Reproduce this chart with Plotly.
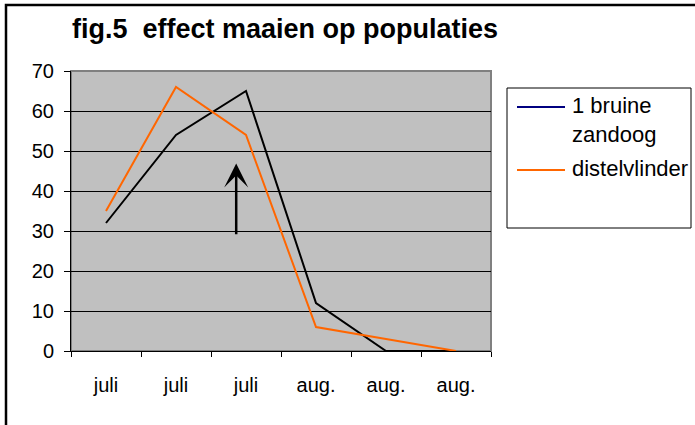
import plotly.graph_objects as go

categories = ["juli", "juli", "juli", "aug.", "aug.", "aug."]
bruine_zandoog = [32, 54, 65, 12, 0, 0]
distelvlinder = [35, 66, 54, 6, 3, 0]
y_ticks = [0, 10, 20, 30, 40, 50, 60, 70]
arrow_x = 1.86
arrow_from = 28.8
arrow_to = 46.9

x_pos = list(range(len(categories)))
FONT = "Liberation Sans, Arial, sans-serif"

# pixel -> paper helpers (plot area: x 71..491, y 71..351)
def px(x):
    return (x - 71) / 420


def py(y):
    return (351 - y) / 280


fig = go.Figure()
fig.add_trace(go.Scatter(x=x_pos, y=bruine_zandoog, mode="lines",
                         line=dict(color="#000000", width=2), showlegend=False,
                         name="1 bruine zandoog"))
fig.add_trace(go.Scatter(x=x_pos, y=distelvlinder, mode="lines",
                         line=dict(color="#FF6600", width=2), showlegend=False,
                         name="distelvlinder"))

fig.add_annotation(x=arrow_x, y=arrow_to, ax=arrow_x, ay=arrow_from,
                   xref="x", yref="y", axref="x", ayref="y", text="",
                   showarrow=True, arrowhead=3, arrowwidth=2.5, arrowsize=1.6,
                   arrowcolor="#000000")

# plot-area border
fig.add_shape(type="rect", xref="paper", yref="paper", x0=0, x1=1, y0=0, y1=1,
              line=dict(color="#808080", width=2), layer="below")
# legend box
fig.add_shape(type="rect", xref="paper", yref="paper",
              x0=px(507), x1=px(691), y0=py(228), y1=py(88),
              line=dict(color="#000000", width=1))
# legend entries: (colour, text lines, symbol y, first text centre y)
legend_entries = [("#000080", ["1 bruine", "zandoog"], 107, 105),
                  ("#FF6600", ["distelvlinder"], 170, 168)]
for color, lines, ysym, ytxt in legend_entries:
    fig.add_shape(type="line", xref="paper", yref="paper",
                  x0=px(517), x1=px(565), y0=py(ysym), y1=py(ysym),
                  line=dict(color=color, width=2))
    for i, t in enumerate(lines):
        fig.add_annotation(x=px(570), y=py(ytxt + 29 * i), xref="paper", yref="paper",
                           text=t, showarrow=False, xanchor="left", yanchor="middle",
                           font=dict(family=FONT, size=22, color="#000000"))
# outer chart border
fig.add_shape(type="rect", xref="paper", yref="paper",
              x0=px(6), x1=px(705), y0=py(440), y1=py(5),
              line=dict(color="#000000", width=2.5))

fig.update_layout(
    width=695, height=425,
    margin=dict(l=71, r=204, t=71, b=74),
    paper_bgcolor="#FFFFFF", plot_bgcolor="#C0C0C0",
    font=dict(family=FONT, size=20, color="#000000"),
    showlegend=False,
    title=dict(text="fig.5  effect maaien op populaties", x=285 / 695, xanchor="center",
               xref="container", y=1 - 29 / 425, yanchor="middle", yref="container",
               font=dict(family=FONT, size=27, weight="bold", color="#000000")),
    xaxis=dict(range=[-0.5, 5.5], tickmode="array", tickvals=x_pos, ticktext=categories,
               ticks="outside", ticklen=16, tickcolor="rgba(0,0,0,0)",
               showgrid=False, zeroline=False, showline=True, linecolor="#000000",
               linewidth=1, tickfont=dict(size=20),
               minor=dict(tickmode="array", tickvals=[i - 0.5 for i in range(len(categories) + 1)],
                          ticks="outside", ticklen=5, tickcolor="#000000", showgrid=False)),
    yaxis=dict(range=[0, 70], tickmode="array", tickvals=y_ticks,
               ticks="outside", ticklen=6, tickcolor="#000000", ticklabelstandoff=6,
               showgrid=True, gridcolor="#000000", gridwidth=1, zeroline=False,
               showline=True, linecolor="#000000", linewidth=1, tickfont=dict(size=20)),
)

fig.write_html("out.html", post_script="document.body.style.margin='0';",
               config={"displayModeBar": False})
